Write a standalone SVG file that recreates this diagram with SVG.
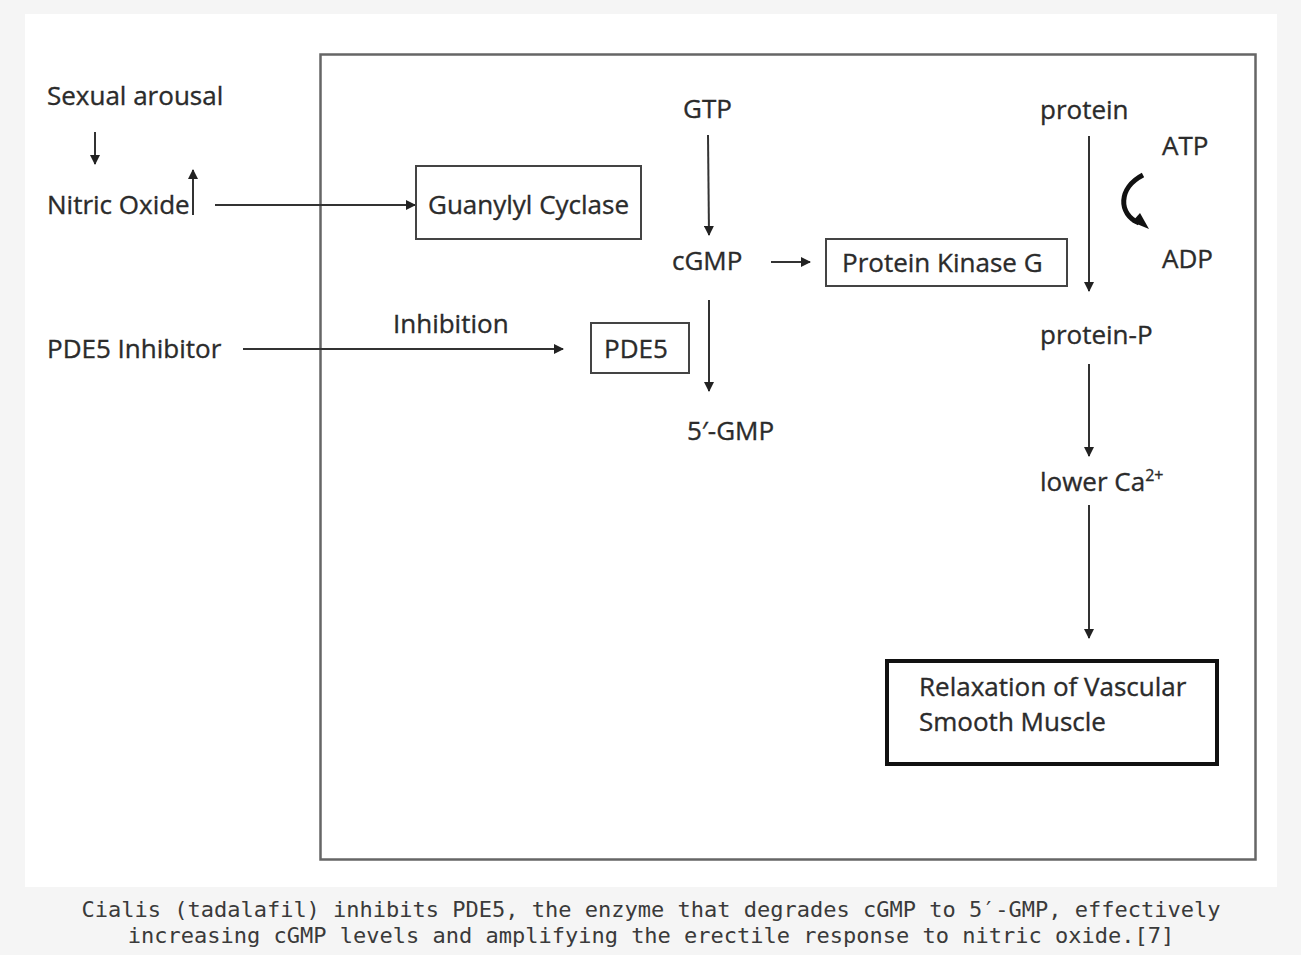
<svg xmlns="http://www.w3.org/2000/svg" width="1301" height="955" viewBox="0 0 1301 955">
<defs>
<style>
.t{font-family:"Open Sans","Noto Sans","Liberation Sans",sans-serif;font-size:26px;fill:#2b2b2b;stroke:#2b2b2b;stroke-width:0.35}
.c{stroke:#333;stroke-width:2;fill:none}
.box{fill:none;stroke:#444;stroke-width:2}
.cap{font-family:"DejaVu Sans Mono","Liberation Mono",monospace;font-size:22px;fill:#3a3a3a;text-anchor:middle}
</style>
<marker id="ah2" viewBox="0 0 10 10" refX="9" refY="5" markerWidth="10" markerHeight="10" orient="auto" markerUnits="userSpaceOnUse">
<path d="M0,0 L10,5 L0,10 z" fill="#222"/>
</marker>
</defs>
<rect width="1301" height="955" fill="#f5f5f5"/>
<rect x="25" y="14" width="1252" height="873" fill="#ffffff"/>
<rect id="frame" x="320.5" y="54.5" width="935" height="805" fill="none" stroke="#666" stroke-width="2.5"/>

<g id="connectors">
<line class="c" x1="95" y1="132" x2="95" y2="164" marker-end="url(#ah2)"/>
<line class="c" x1="193" y1="215" x2="193" y2="170" marker-end="url(#ah2)"/>
<line class="c" x1="215" y1="205" x2="415" y2="205" marker-end="url(#ah2)"/>
<line class="c" x1="708" y1="135" x2="709" y2="235" marker-end="url(#ah2)"/>
<line class="c" x1="771" y1="262" x2="810" y2="262" marker-end="url(#ah2)"/>
<line class="c" x1="709" y1="300" x2="709" y2="391" marker-end="url(#ah2)"/>
<line class="c" x1="243" y1="349" x2="563" y2="349" marker-end="url(#ah2)"/>
<line class="c" x1="1089" y1="136" x2="1089" y2="291" marker-end="url(#ah2)"/>
<line class="c" x1="1089" y1="364" x2="1089" y2="456" marker-end="url(#ah2)"/>
<line class="c" x1="1089" y1="505" x2="1089" y2="638" marker-end="url(#ah2)"/>
<path d="M1143,175 C1118,188 1118,214 1139,223" fill="none" stroke="#111" stroke-width="5"/>
<path d="M1132,222 L1149,229 L1140,213 z" fill="#111"/>
</g>

<g id="sexual-arousal"><text class="t" x="47" y="105">Sexual arousal</text></g>
<g id="nitric-oxide"><text class="t" x="47" y="214">Nitric Oxide</text></g>
<g id="pde5-inhibitor"><text class="t" x="47" y="358">PDE5 Inhibitor</text></g>
<g id="inhibition"><text class="t" x="393" y="333">Inhibition</text></g>
<g id="guanylyl-cyclase">
<rect class="box" x="416" y="166" width="225" height="73"/>
<text class="t" x="428" y="214">Guanylyl Cyclase</text>
</g>
<g id="gtp"><text class="t" x="683" y="118">GTP</text></g>
<g id="cgmp"><text class="t" x="672" y="270">cGMP</text></g>
<g id="pkg">
<rect class="box" x="826" y="239" width="241" height="47"/>
<text class="t" x="842" y="272">Protein Kinase G</text>
</g>
<g id="pde5">
<rect class="box" x="591" y="323" width="98" height="50"/>
<text class="t" x="604" y="358">PDE5</text>
</g>
<g id="gmp5"><text class="t" x="687" y="440">5′-GMP</text></g>
<g id="protein"><text class="t" x="1040" y="119">protein</text></g>
<g id="atp"><text class="t" x="1162" y="155">ATP</text></g>
<g id="adp"><text class="t" x="1162" y="268">ADP</text></g>
<g id="protein-p"><text class="t" x="1040" y="344">protein-P</text></g>
<g id="lower-ca"><text class="t" x="1040" y="491">lower Ca<tspan font-size="16" dy="-10">2+</tspan></text></g>
<g id="relaxation">
<rect x="887" y="661" width="330" height="103" fill="none" stroke="#111" stroke-width="4"/>
<text class="t" x="919" y="696">Relaxation of Vascular</text>
<text class="t" x="919" y="731">Smooth Muscle</text>
</g>
<g id="caption">
<text class="cap" x="651" y="917">Cialis (tadalafil) inhibits PDE5, the enzyme that degrades cGMP to 5′-GMP, effectively</text>
<text class="cap" x="651" y="943">increasing cGMP levels and amplifying the erectile response to nitric oxide.[7]</text>
</g>
</svg>
